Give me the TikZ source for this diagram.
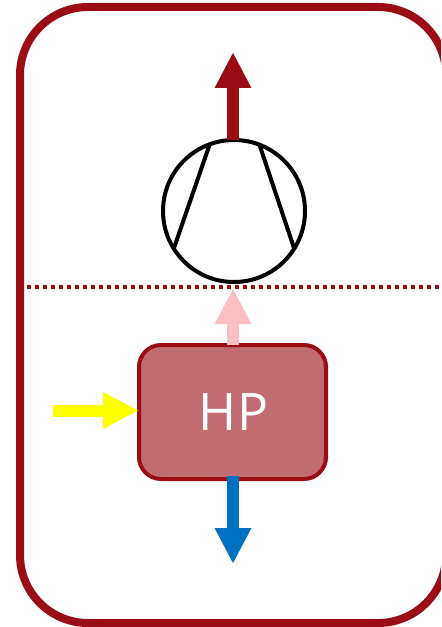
\documentclass[tikz,border=0pt]{standalone}
\usepackage{fontspec}
\setsansfont{Open Sans}
\usetikzlibrary{arrows.meta}
\definecolor{darkred}{HTML}{9B0D14}
\definecolor{hpfill}{HTML}{C06C71}
\definecolor{pinkred}{HTML}{FBBFC3}
\definecolor{coldblue}{HTML}{0070C0}
\definecolor{heatyellow}{HTML}{FFFF00}
\tikzset{
  flow/.style={line width=.12cm, -{Triangle[length=.36cm, width=.34cm, inset=0pt]}},
  outline/.style={darkred, line width=.08cm},
  hpbox/.style={draw=darkred, fill=hpfill, line width=.04cm, rounded corners=.22cm,
    minimum width=1.87cm, minimum height=1.34cm, outer sep=0pt, inner sep=0pt,
    text=white, font=\sffamily\fontsize{14.7}{16}\selectfont},
  compressor/.style={draw=black, fill=white, circle, line width=.04cm,
    minimum size=1.42cm, outer sep=0pt, inner sep=0pt},
  blade/.style={black, line width=.04cm}
}
\begin{document}
\begin{tikzpicture}
    \useasboundingbox (0,0) rectangle (4.41,-6.27);
    \clip (0,0) rectangle (4.41,-6.27);

    \draw[outline, rounded corners=.68cm] (.2,-.07) rectangle (4.46,-6.23);
    \draw[darkred, line width=.04cm, dash pattern=on .04cm off .04cm] (.27,-2.87) -- (4.45,-2.87);

    \node[compressor] (comp) at (2.34,-2.11) {};
    \draw[blade] (comp.110) -- (comp.212);
    \draw[blade] (comp.69) -- (comp.-32);

    \node[hpbox] (hp) at (2.325,-4.12) {\hspace{.02cm}HP};

    \coordinate (workout) at (2.33,-.52);
    \coordinate (workin) at (2.33,-2.88);
    \coordinate (heatin) at (.53,-4.105);
    \coordinate (coldout) at (2.33,-5.64);

    \draw[flow, darkred] (workout |- comp.north) -- (workout);
    \draw[flow, pinkred] (workin |- hp.north) -- (workin);
    \draw[flow, heatyellow] (heatin) -- (heatin -| hp.west);
    \draw[flow, coldblue] ([yshift=.03cm]coldout |- hp.south) -- (coldout);
\end{tikzpicture}
\end{document}
